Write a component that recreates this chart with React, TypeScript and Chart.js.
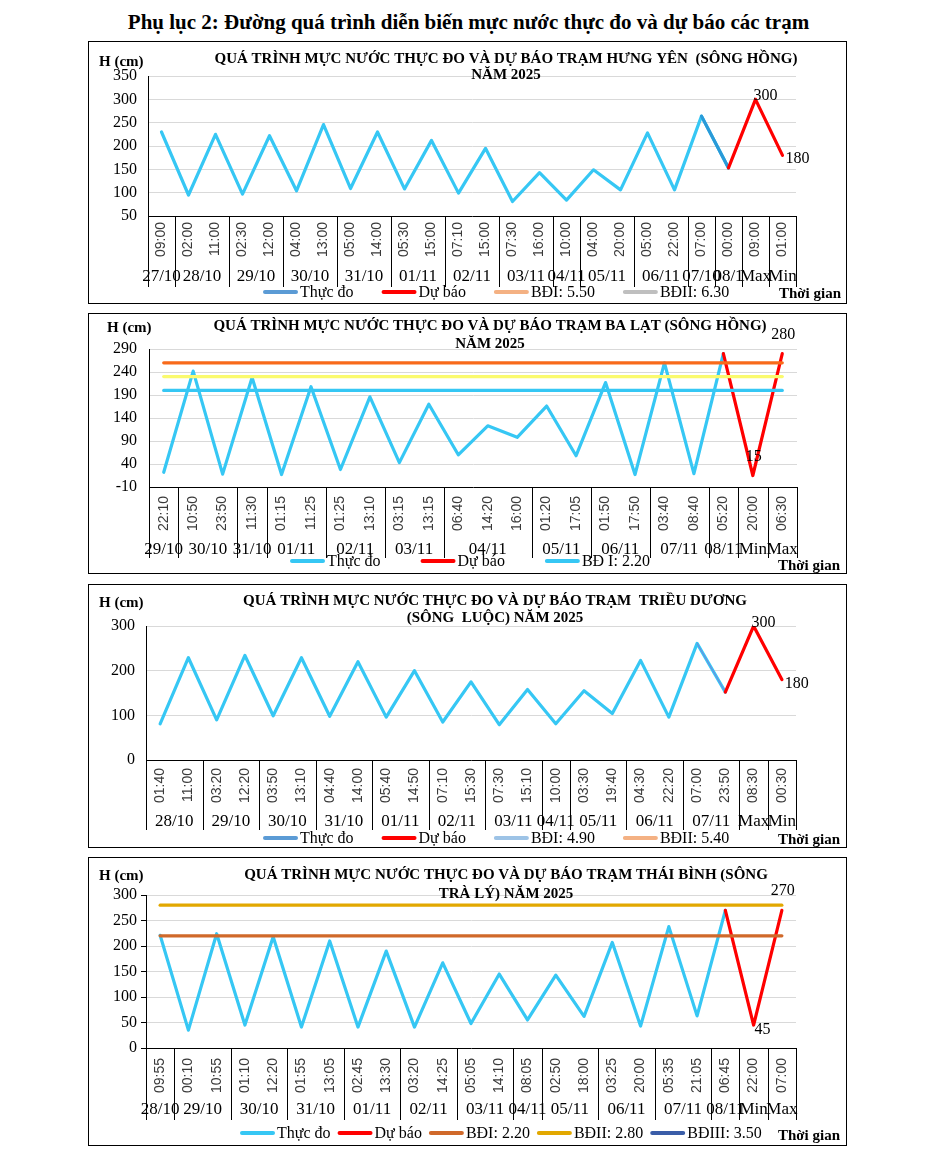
import React, { useEffect, useRef } from 'react';
import { Chart, registerables } from 'chart.js';

Chart.register(...registerables);

// ---------------- Panel 1: Hưng Yên (sông Hồng) ----------------
const hyTimes = ['09:00', '02:00', '11:00', '02:30', '12:00', '04:00', '13:00', '05:00', '14:00', '05:30', '15:00', '07:10', '15:00', '07:30', '16:00', '10:00', '04:00', '20:00', '05:00', '22:00', '07:00', '00:00', '09:00', '01:00'];
const hyDates = ['27/10', '28/10', '29/10', '30/10', '31/10', '01/11', '02/11', '03/11', '04/11', '05/11', '06/11', '07/10', '08/1', 'Max', 'Min'];
const hySpans = [1, 2, 2, 2, 2, 2, 2, 2, 1, 2, 2, 1, 1, 1, 1];
const hyMeasured = [230, 95, 225, 97, 222, 104, 246, 109, 230, 108, 212, 99, 195, 81, 143, 84, 149, 106, 228, 106, 264, 153, null, null];
const hyMeasuredLast = [null, null, null, null, null, null, null, null, null, null, null, null, null, null, null, null, null, null, null, null, 264, 153, null, null];
const hyForecast = [null, null, null, null, null, null, null, null, null, null, null, null, null, null, null, null, null, null, null, null, null, 153, 300, 180];
const hyBDI = 550;
const hyBDII = 630;

// ---------------- Panel 2: Ba Lạt (sông Hồng) ----------------
const blTimes = ['22:10', '10:50', '23:50', '11:30', '01:15', '11:25', '01:25', '13:10', '03:15', '13:15', '06:40', '14:20', '16:00', '01:20', '17:05', '01:50', '17:50', '03:40', '08:40', '05:20', '20:00', '06:30'];
const blDates = ['29/10', '30/10', '31/10', '01/11', '02/11', '03/11', '04/11', '05/11', '06/11', '07/11', '08/11', 'Min', 'Max'];
const blSpans = [1, 2, 1, 2, 2, 2, 3, 2, 2, 2, 1, 1, 1];
const blMeasured = [22, 242, 18, 228, 17, 208, 28, 186, 43, 170, 60, 123, 98, 166, 58, 217, 17, 260, 19, 280, null, null];
const blForecast = [null, null, null, null, null, null, null, null, null, null, null, null, null, null, null, null, null, null, null, 280, 15, 280];
const blBDI = 200;
const blLevelHigh = 260;
const blLevelMid = 230;

// ---------------- Panel 3: Triều Dương (sông Luộc) ----------------
const tdTimes = ['01:40', '11:00', '03:20', '12:20', '03:50', '13:10', '04:40', '14:00', '05:40', '14:50', '07:10', '15:30', '07:30', '15:10', '10:00', '03:30', '19:40', '04:30', '22:20', '07:00', '23:50', '08:30', '00:30'];
const tdDates = ['28/10', '29/10', '30/10', '31/10', '01/11', '02/11', '03/11', '04/11', '05/11', '06/11', '07/11', 'Max', 'Min'];
const tdSpans = [2, 2, 2, 2, 2, 2, 2, 1, 2, 2, 2, 1, 1];
const tdMeasured = [81, 229, 90, 234, 99, 229, 98, 220, 96, 200, 85, 175, 79, 158, 81, 155, 104, 223, 96, 261, 152, null, null];
const tdMeasuredLast = [null, null, null, null, null, null, null, null, null, null, null, null, null, null, null, null, null, null, null, 261, 152, null, null];
const tdForecast = [null, null, null, null, null, null, null, null, null, null, null, null, null, null, null, null, null, null, null, null, 152, 300, 180];
const tdBDI = 490;
const tdBDII = 540;

// ---------------- Panel 4: Thái Bình (sông Trà Lý) ----------------
const tbTimes = ['09:55', '00:10', '10:55', '01:10', '12:20', '01:55', '13:05', '02:45', '13:30', '03:20', '14:25', '05:05', '14:10', '08:05', '02:50', '18:00', '03:25', '20:00', '05:35', '21:05', '06:45', '22:00', '07:00'];
const tbDates = ['28/10', '29/10', '30/10', '31/10', '01/11', '02/11', '03/11', '04/11', '05/11', '06/11', '07/11', '08/11', 'Min', 'Max'];
const tbSpans = [1, 2, 2, 2, 2, 2, 2, 1, 2, 2, 2, 1, 1, 1];
const tbMeasured = [221, 35, 224, 45, 218, 41, 210, 41, 190, 41, 167, 48, 145, 55, 143, 62, 207, 43, 238, 63, 270, null, null];
const tbForecast = [null, null, null, null, null, null, null, null, null, null, null, null, null, null, null, null, null, null, null, null, 270, 45, 270];
const tbBDI = 220;
const tbBDII = 280;
const tbBDIII = 350;

// ---------------- styling ----------------
const CYAN = '#36C7F4';
const RED = '#FF0000';
const SERIF = '"Liberation Serif", "Times New Roman", serif';
const SANS = '"Liberation Sans", Arial, sans-serif';

const level = (times: string[], v: number) => times.map(() => v);

type Pos = 'aboveRight' | 'right' | 'aboveCenter' | 'belowRight';

interface SeriesSpec {
  label: string;
  data: (number | null)[];
  color: string;
  width: number;
  order: number;
  legendColor?: string;
}

interface PanelSpec {
  box: { left: number; top: number; width: number; height: number };
  area: { left: number; right: number; top: number; bottom: number };
  title: string[];
  titleX: number;
  titleY: number[];
  hcm: [number, number];
  yMin: number;
  yMax: number;
  yStep: number;
  yTickMarks: boolean;
  yPad: number;
  times: string[];
  dates: string[];
  spans: number[];
  timePad: number;
  dateY: number;
  sepBottom: number;
  series: SeriesSpec[];
  legendX: number;
  legendY: number;
  legendGap: number;
  xTitle: [number, number];
  forecastIdx: number;
  valueLabels: { i: number; pos: Pos }[];
}

const panels: PanelSpec[] = [
  {
    box: { left: 88, top: 41, width: 759, height: 263 },
    area: { left: 60, right: 708, top: 35, bottom: 175 },
    title: ['QUÁ TRÌNH MỰC NƯỚC THỰC ĐO VÀ DỰ BÁO TRẠM HƯNG YÊN  (SÔNG HỒNG)', 'NĂM 2025'],
    titleX: 418,
    titleY: [18, 34.5],
    hcm: [11, 21],
    yMin: 50, yMax: 350, yStep: 50, yTickMarks: false, yPad: 11,
    times: hyTimes, dates: hyDates, spans: hySpans,
    timePad: 6, dateY: 236, sepBottom: 246,
    series: [
      { label: 'Thực đo', data: hyMeasured, color: CYAN, width: 3.2, order: 3 },
      { label: 'Thực đo', data: hyMeasuredLast, color: '#2A9AD8', width: 3.2, order: 2, legendColor: '#5B9BD5' },
      { label: 'Dự báo', data: hyForecast, color: RED, width: 3.2, order: 1, legendColor: RED },
      { label: 'BĐI: 5.50', data: level(hyTimes, hyBDI), color: '#F4B183', width: 3, order: 0, legendColor: '#F4B183' },
      { label: 'BĐII: 6.30', data: level(hyTimes, hyBDII), color: '#BFBFBF', width: 3, order: 0, legendColor: '#BFBFBF' },
    ],
    legendX: 175, legendY: 251, legendGap: 28,
    xTitle: [753, 253],
    forecastIdx: 2,
    valueLabels: [{ i: 22, pos: 'aboveRight' }, { i: 23, pos: 'right' }],
  },
  {
    box: { left: 88, top: 313, width: 759, height: 261 },
    area: { left: 61, right: 709, top: 36, bottom: 174 },
    title: ['QUÁ TRÌNH MỰC NƯỚC THỰC ĐO VÀ DỰ BÁO TRẠM BA LẠT (SÔNG HỒNG)', 'NĂM 2025'],
    titleX: 402,
    titleY: [13, 31],
    hcm: [19, 15],
    yMin: -10, yMax: 290, yStep: 50, yTickMarks: false, yPad: 12,
    times: blTimes, dates: blDates, spans: blSpans,
    timePad: 9, dateY: 237, sepBottom: 245,
    series: [
      { label: 'Thực đo', data: blMeasured, color: CYAN, width: 3.2, order: 3, legendColor: CYAN },
      { label: 'Dự báo', data: blForecast, color: RED, width: 3.2, order: 1, legendColor: RED },
      { label: 'BĐ I: 2.20', data: level(blTimes, blBDI), color: CYAN, width: 3.2, order: 0, legendColor: CYAN },
      { label: 'BĐ II', data: level(blTimes, blLevelHigh), color: '#F86A1A', width: 3.2, order: 0 },
      { label: 'BĐ III', data: level(blTimes, blLevelMid), color: '#FAFA6E', width: 3.2, order: 0 },
    ],
    legendX: 202, legendY: 248, legendGap: 40,
    xTitle: [752, 253],
    forecastIdx: 1,
    valueLabels: [{ i: 20, pos: 'aboveCenter' }, { i: 21, pos: 'aboveCenter' }],
  },
  {
    box: { left: 88, top: 584, width: 759, height: 264 },
    area: { left: 58, right: 708, top: 42, bottom: 176 },
    title: ['QUÁ TRÌNH MỰC NƯỚC THỰC ĐO VÀ DỰ BÁO TRẠM  TRIỀU DƯƠNG', '(SÔNG  LUỘC) NĂM 2025'],
    titleX: 407,
    titleY: [17, 34.5],
    hcm: [11, 19],
    yMin: 0, yMax: 300, yStep: 100, yTickMarks: false, yPad: 11,
    times: tdTimes, dates: tdDates, spans: tdSpans,
    timePad: 8, dateY: 238, sepBottom: 246,
    series: [
      { label: 'Thực đo', data: tdMeasured, color: CYAN, width: 3.2, order: 3 },
      { label: 'Thực đo', data: tdMeasuredLast, color: '#7E7EDB', width: 1, order: 2, legendColor: '#5B9BD5' },
      { label: 'Dự báo', data: tdForecast, color: RED, width: 3.2, order: 1, legendColor: RED },
      { label: 'BĐI: 4.90', data: level(tdTimes, tdBDI), color: '#9DC3E6', width: 3, order: 0, legendColor: '#9DC3E6' },
      { label: 'BĐII: 5.40', data: level(tdTimes, tdBDII), color: '#F4B183', width: 3, order: 0, legendColor: '#F4B183' },
    ],
    legendX: 175, legendY: 254, legendGap: 28,
    xTitle: [752, 256],
    forecastIdx: 2,
    valueLabels: [{ i: 21, pos: 'aboveRight' }, { i: 22, pos: 'right' }],
  },
  {
    box: { left: 88, top: 857, width: 759, height: 289 },
    area: { left: 58, right: 708, top: 38, bottom: 191 },
    title: ['QUÁ TRÌNH MỰC NƯỚC THỰC ĐO VÀ DỰ BÁO TRẠM THÁI BÌNH (SÔNG', 'TRÀ LÝ) NĂM 2025'],
    titleX: 418,
    titleY: [18, 37],
    hcm: [11, 19],
    yMin: 0, yMax: 300, yStep: 50, yTickMarks: true, yPad: 4,
    times: tbTimes, dates: tbDates, spans: tbSpans,
    timePad: 10, dateY: 253, sepBottom: 263,
    series: [
      { label: 'Thực đo', data: tbMeasured, color: CYAN, width: 3.2, order: 3, legendColor: CYAN },
      { label: 'Dự báo', data: tbForecast, color: RED, width: 3.2, order: 1, legendColor: RED },
      { label: 'BĐI: 2.20', data: level(tbTimes, tbBDI), color: '#D0692A', width: 3.2, order: 0, legendColor: '#D0692A' },
      { label: 'BĐII: 2.80', data: level(tbTimes, tbBDII), color: '#E2A800', width: 3.2, order: 0, legendColor: '#E2A800' },
      { label: 'BĐIII: 3.50', data: level(tbTimes, tbBDIII), color: '#3A5DA8', width: 3.2, order: 0, legendColor: '#3A5DA8' },
    ],
    legendX: 152, legendY: 276, legendGap: 7,
    xTitle: [752, 279],
    forecastIdx: 1,
    valueLabels: [{ i: 21, pos: 'belowRight' }, { i: 22, pos: 'aboveCenter' }],
  },
];

function makeDecor(spec: PanelSpec) {
  return {
    id: 'decor',
    afterDraw(chart: any) {
      const ctx: CanvasRenderingContext2D = chart.ctx;
      const xs = chart.scales.x;
      const area = chart.chartArea;
      const n = spec.times.length;
      const half = (xs.getPixelForValue(1) - xs.getPixelForValue(0)) / 2;
      const edge = (i: number) => (i < n ? xs.getPixelForValue(i) - half : xs.getPixelForValue(n - 1) + half);
      ctx.save();

      // group separators and date labels
      ctx.strokeStyle = '#000';
      ctx.lineWidth = 1;
      let start = 0;
      const bounds = [0];
      spec.spans.forEach((s) => {
        start += s;
        bounds.push(start);
      });
      bounds.forEach((b) => {
        const x = Math.round(edge(b)) + 0.5;
        ctx.beginPath();
        ctx.moveTo(x, area.bottom);
        ctx.lineTo(x, spec.sepBottom);
        ctx.stroke();
      });
      ctx.font = `17px ${SERIF}`;
      ctx.fillStyle = '#000';
      ctx.textAlign = 'center';
      ctx.textBaseline = 'middle';
      start = 0;
      spec.dates.forEach((d, k) => {
        const s = spec.spans[k];
        const cx = (edge(start) + edge(start + s)) / 2;
        ctx.fillText(d, cx, spec.dateY);
        start += s;
      });

      // value labels on forecast points
      const meta = chart.getDatasetMeta(spec.forecastIdx);
      const ds = chart.data.datasets[spec.forecastIdx];
      ctx.font = `16px ${SERIF}`;
      spec.valueLabels.forEach(({ i, pos }) => {
        const el = meta.data[i];
        const txt = String(ds.data[i]);
        const px = el.x;
        const py = el.y;
        ctx.textBaseline = 'alphabetic';
        if (pos === 'aboveRight') {
          ctx.textAlign = 'left';
          ctx.fillText(txt, px - 2, py + 1);
        } else if (pos === 'right') {
          ctx.textAlign = 'left';
          ctx.fillText(txt, px + 3, py + 8);
        } else if (pos === 'aboveCenter') {
          ctx.textAlign = 'center';
          ctx.fillText(txt, px + 1, py - 15);
        } else {
          ctx.textAlign = 'left';
          ctx.fillText(txt, px + 1, py + 9);
        }
      });

      // title
      ctx.font = `bold 15px ${SERIF}`;
      ctx.textAlign = 'center';
      ctx.textBaseline = 'middle';
      spec.title.forEach((t, k) => ctx.fillText(t, spec.titleX, spec.titleY[k]));

      // axis titles
      ctx.textAlign = 'left';
      ctx.fillText('H (cm)', spec.hcm[0], spec.hcm[1]);
      ctx.textAlign = 'right';
      ctx.fillText('Thời gian', spec.xTitle[0], spec.xTitle[1]);

      // legend
      let lx = spec.legendX;
      const ly = spec.legendY;
      chart.data.datasets.forEach((d: any, k: number) => {
        const s = spec.series[k];
        if (!s.legendColor) return;
        ctx.strokeStyle = s.legendColor;
        ctx.lineWidth = 4;
        ctx.lineCap = 'round';
        ctx.beginPath();
        ctx.moveTo(lx + 2, ly);
        ctx.lineTo(lx + 33, ly);
        ctx.stroke();
        ctx.font = `16px ${SERIF}`;
        ctx.fillStyle = '#000';
        ctx.textAlign = 'left';
        ctx.textBaseline = 'middle';
        ctx.fillText(d.label, lx + 37, ly + 1);
        lx += 37 + ctx.measureText(d.label).width + spec.legendGap;
      });
      ctx.restore();
    },
  };
}

function Panel({ spec }: { spec: PanelSpec }) {
  const ref = useRef<HTMLCanvasElement>(null);
  useEffect(() => {
    const canvas = ref.current;
    if (!canvas) return;
    const { box, area } = spec;
    const chart = new Chart(canvas, {
      type: 'line',
      data: {
        labels: spec.times,
        datasets: spec.series.map((s) => ({
          label: s.label,
          data: s.data,
          borderColor: s.color,
          backgroundColor: s.color,
          borderWidth: s.width,
          pointRadius: 0,
          pointHoverRadius: 0,
          tension: 0,
          fill: false,
          spanGaps: false,
          order: s.order,
          borderJoinStyle: 'round',
          borderCapStyle: 'round',
        })) as any,
      },
      options: {
        responsive: false,
        animation: false,
        events: [],
        layout: { padding: { left: 0, top: area.top, right: box.width - area.right, bottom: 0 } },
        plugins: {
          legend: { display: false },
          tooltip: { enabled: false },
          title: { display: false },
        },
        scales: {
          x: {
            type: 'category',
            offset: true,
            grid: { display: false, drawTicks: false },
            border: { display: true, color: '#000', width: 1 },
            ticks: {
              autoSkip: false,
              minRotation: 90,
              maxRotation: 90,
              padding: spec.timePad,
              color: '#3a3a3a',
              font: { family: SANS, size: 14 },
            },
            afterFit: (s: any) => {
              s.height = box.height - area.bottom;
            },
          },
          y: {
            min: spec.yMin,
            max: spec.yMax,
            ticks: { stepSize: spec.yStep, padding: spec.yPad, color: '#000', font: { family: SERIF, size: 16 } },
            grid: {
              color: (c: any) => (c.tick && c.tick.value === spec.yMin ? 'rgba(0,0,0,0)' : '#D9D9D9'),
              lineWidth: 1,
              drawTicks: spec.yTickMarks,
              tickLength: 5,
              tickColor: '#000',
            },
            border: { display: true, color: '#000', width: 1 },
            afterFit: (s: any) => {
              s.width = area.left;
            },
          },
        },
      } as any,
      plugins: [makeDecor(spec)],
    });
    return () => chart.destroy();
  }, [spec]);
  const { box } = spec;
  return (
    <>
      <canvas
        ref={ref}
        width={box.width}
        height={box.height}
        style={{ position: 'absolute', left: box.left, top: box.top, width: box.width, height: box.height }}
      />
      <div
        style={{
          position: 'absolute',
          left: box.left,
          top: box.top,
          width: box.width,
          height: box.height,
          border: '1px solid #000',
          boxSizing: 'border-box',
          pointerEvents: 'none',
        }}
      />
    </>
  );
}

export default function App() {
  return (
    <div style={{ position: 'absolute', left: 0, top: 0, width: 937, height: 1168, background: '#fff' }}>
      <div
        style={{
          position: 'absolute',
          left: 0,
          top: 9,
          width: 937,
          textAlign: 'center',
          fontFamily: SERIF,
          fontWeight: 'bold',
          fontSize: 21,
          lineHeight: '26px',
          color: '#000',
        }}
      >
        Phụ lục 2: Đường quá trình diễn biến mực nước thực đo và dự báo các trạm
      </div>
      {panels.map((p, k) => (
        <Panel key={k} spec={p} />
      ))}
    </div>
  );
}
